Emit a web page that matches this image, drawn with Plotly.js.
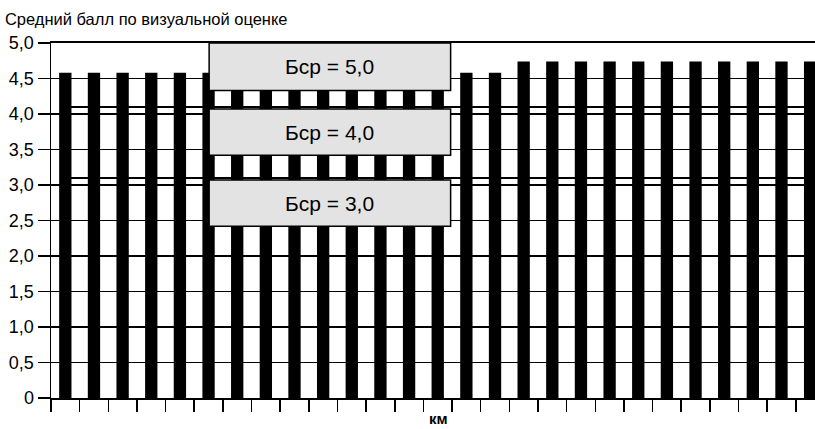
<!DOCTYPE html>
<html><head><meta charset="utf-8">
<script src="https://cdn.plot.ly/plotly-3.0.1.min.js"></script>
<style>html,body{margin:0;padding:0;background:#fff}#chart{width:815px;height:429px}</style>
</head><body><div id="chart"></div>
<script>
// ---- data ----
const segments = ["1","2","3","4","5","6","7","8","9","10","11","12","13","14","15","16","17","18","19","20","21","22","23","24","25","26","27"];
const scores = [4.58,4.58,4.58,4.58,4.58,4.58,4.58,4.58,4.58,4.58,4.58,4.58,4.58,4.58,4.58,4.58,
                4.74,4.74,4.74,4.74,4.74,4.74,4.74,4.74,4.74,4.74,4.74];
const yTickVals = [0,0.5,1,1.5,2,2.5,3,3.5,4,4.5,5];
const yTickLabels = ["0","0,5","1,0","1,5","2,0","2,5","3,0","3,5","4,0","4,5","5,0"];
const refLevels = [4.1, 3.1];
const boxLabels = ["Бср = 5,0","Бср = 4,0","Бср = 3,0"];
const chartTitle = "Средний балл по визуальной оценке";
const xTitle = "км";

// ---- layout helpers (positions) ----
const boxX = [5.02, 13.45];
const boxY = [[4.33, 5.0],[3.42, 4.07],[2.42, 3.07]];
const xMax = 26.17;
const font = "Liberation Sans, Arial, Helvetica, sans-serif";

const shapes = [];
refLevels.forEach(v => shapes.push({type:'line', xref:'x', yref:'y', x0:0, x1:xMax, y0:v, y1:v,
  line:{color:'#000', width:2}, layer:'below'}));
const annotations = [];
boxY.forEach((b,i) => {
  shapes.push({type:'rect', xref:'x', yref:'y', x0:boxX[0], x1:boxX[1], y0:b[0], y1:b[1],
    fillcolor:'#e3e3e3', line:{color:'#000', width:1.5}, layer:'above'});
  annotations.push({xref:'x', yref:'y', x:(boxX[0]+boxX[1])/2, y:(b[0]+b[1])/2, text:boxLabels[i],
    showarrow:false, font:{family:font, size:21, color:'#000'}});
});
annotations.push({xref:'paper', yref:'paper', x:0.507, y:0, yshift:-20, yanchor:'middle', text:'<b>'+xTitle+'</b>',
  showarrow:false, font:{family:font, size:15, color:'#000'}});

const trace = {type:'bar', x:segments, y:scores, marker:{color:'#000', line:{width:0}}};

const layout = {
  width:815, height:429,
  margin:{l:51, r:0, t:43, b:31},
  paper_bgcolor:'#fff', plot_bgcolor:'#fff',
  showlegend:false,
  bargap:0.57,
  font:{family:font, color:'#000'},
  title:{text:chartTitle, x:0.006, xanchor:'left', y:0.955, yanchor:'middle', font:{family:font, size:16.5, color:'#000'}},
  xaxis:{type:'category', range:[-0.5, xMax], showticklabels:false, tickson:'boundaries',
    ticks:'outside', ticklen:12, tickwidth:1.5, tickcolor:'#000',
    showline:true, linecolor:'#000', linewidth:2, mirror:true, showgrid:false, zeroline:false},
  yaxis:{range:[0,5], tickvals:yTickVals, ticktext:yTickLabels, ticks:'outside', ticklen:12, tickwidth:1.5,
    tickcolor:'#000', showline:true, linecolor:'#000', linewidth:1.5, showgrid:true, gridcolor:'#000',
    gridwidth:1.5, zeroline:false, ticklabelstandoff:0, tickfont:{family:font, size:18, color:'#000'}},
  shapes:shapes,
  annotations:annotations
};
Plotly.newPlot('chart', [trace], layout, {staticPlot:true, displayModeBar:false});
</script>
</body></html>
